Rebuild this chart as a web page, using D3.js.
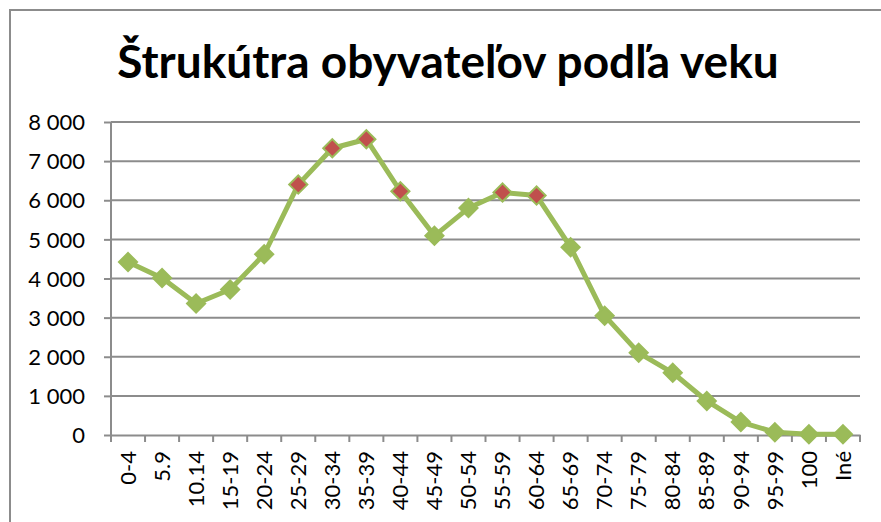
<!DOCTYPE html>
<html>
<head>
<meta charset="utf-8">
<script src="https://cdn.jsdelivr.net/npm/d3@7"></script>
<style>
  body { margin: 0; background: #fff; }
  text { font-family: Lato, "Open Sans", sans-serif; }
</style>
</head>
<body>
<script>
var categories = ["0-4", "5.9", "10.14", "15-19", "20-24", "25-29", "30-34", "35-39", "40-44", "45-49",
  "50-54", "55-59", "60-64", "65-69", "70-74", "75-79", "80-84", "85-89", "90-94", "95-99", "100", "Iné"];
var values = [4420, 4010, 3360, 3720, 4620, 6400, 7330, 7560, 6230, 5090,
  5800, 6200, 6120, 4800, 3050, 2100, 1590, 870, 330, 70, 20, 20];
// points drawn with the red marker
var highlighted = ["25-29", "30-34", "35-39", "40-44", "55-59", "60-64"];
var yTicks = [0, 1000, 2000, 3000, 4000, 5000, 6000, 7000, 8000];
var title = "Štrukútra obyvateľov podľa veku";

var w = 881, h = 522;
var plotLeft = 111, plotRight = 860, plotTop = 122, plotBottom = 435;

var svg = d3.select("body").append("svg")
    .attr("width", w)
    .attr("height", h);

// chart frame
svg.append("path")
    .attr("d", "M10,522 V10 H881")
    .attr("fill", "none")
    .attr("stroke", "#8c8c8c")
    .attr("stroke-width", 2);

svg.append("text")
    .attr("x", 448)
    .attr("y", 78)
    .attr("text-anchor", "middle")
    .style("font-weight", "bold")
    .style("font-size", "46px")
    .attr("fill", "#000")
    .text(title);

var x = d3.scaleBand().domain(categories).range([plotLeft, plotRight]);
var y = d3.scaleLinear().domain([0, 8000]).range([plotBottom, plotTop]);

var fmt = function(d) { return d3.format(",")(d).replace(/,/g, " "); };

// gridlines
svg.append("g")
    .selectAll("line")
    .data(yTicks.slice(1))
    .enter()
    .append("line")
    .attr("x1", plotLeft)
    .attr("x2", plotRight)
    .attr("y1", function(d) { return y(d); })
    .attr("y2", function(d) { return y(d); })
    .attr("stroke", "#8c8c8c")
    .attr("stroke-width", 2);

var yAxis = svg.append("g")
    .attr("transform", "translate(" + plotLeft + ",0)")
    .call(d3.axisLeft(y).tickValues(yTicks).tickFormat(fmt).tickSize(7).tickPadding(19));

var xAxis = svg.append("g")
    .attr("transform", "translate(0," + plotBottom + ")")
    .call(d3.axisBottom(x).tickSize(0).tickPadding(0));

// tick marks between categories
xAxis.append("g")
    .selectAll("line")
    .data(categories.concat([null]))
    .enter()
    .append("line")
    .attr("x1", function(d, i) { return plotLeft + i * x.step(); })
    .attr("x2", function(d, i) { return plotLeft + i * x.step(); })
    .attr("y1", 0)
    .attr("y2", 7)
    .attr("stroke", "#8c8c8c")
    .attr("stroke-width", 2);

[yAxis, xAxis].forEach(function(a) {
  a.select(".domain").attr("stroke", "#8c8c8c").attr("stroke-width", 2);
  a.selectAll(".tick line").attr("stroke", "#8c8c8c").attr("stroke-width", 2);
  a.selectAll("text").attr("fill", "#000").style("font-size", "22px").style("font-family", "Lato, sans-serif");
});
yAxis.select(".domain").attr("d", "M0," + plotBottom + "V" + plotTop);
yAxis.selectAll(".tick text").attr("dy", "0.35em");

xAxis.selectAll(".tick text")
    .attr("transform", "rotate(-90)")
    .attr("text-anchor", "end")
    .attr("x", -16)
    .attr("y", 0)
    .attr("dy", "0.35em");

var line = d3.line()
    .x(function(d, i) { return x(categories[i]) + x.bandwidth() / 2; })
    .y(function(d) { return y(d); });

svg.append("path")
    .datum(values)
    .attr("d", line)
    .attr("fill", "none")
    .attr("stroke", "#9bbb59")
    .attr("stroke-width", 5)
    .attr("stroke-linejoin", "round");

svg.append("g")
    .selectAll("path")
    .data(values)
    .enter()
    .append("path")
    .attr("d", d3.symbol().type(d3.symbolDiamond2).size(210))
    .attr("transform", function(d, i) {
      return "translate(" + (x(categories[i]) + x.bandwidth() / 2) + "," + y(d) + ")";
    })
    .attr("fill", function(d, i) { return highlighted.indexOf(categories[i]) >= 0 ? "#c0504d" : "#9bbb59"; })
    .attr("stroke", "#9bbb59")
    .attr("stroke-width", 2);
</script>
</body>
</html>
